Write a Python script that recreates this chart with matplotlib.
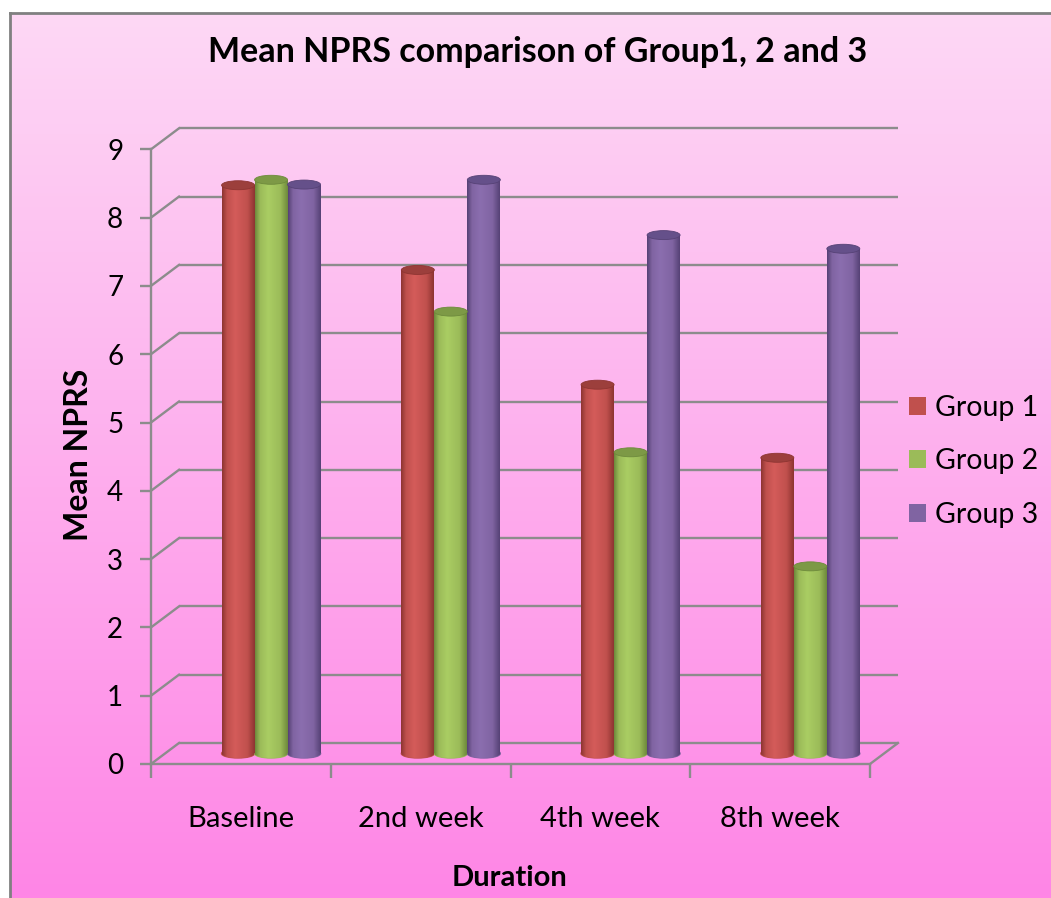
import numpy as np
import matplotlib.pyplot as plt
from matplotlib.colors import LinearSegmentedColormap
from matplotlib.patches import Ellipse

plt.rcParams['font.family'] = ['Lato', 'DejaVu Sans']

durations = ["Baseline", "2nd week", "4th week", "8th week"]
group1 = [8.32, 7.08, 5.40, 4.33]
group2 = [8.40, 6.47, 4.41, 2.74]
group3 = [8.33, 8.40, 7.59, 7.39]
group_names = ["Group 1", "Group 2", "Group 3"]
y_ticks = list(range(10))

# colours (dark edge, base, highlight, top face)
shades = [
    ("#8e3532", "#c0504d", "#d45c5a", "#9c3f3c"),
    ("#6e8a3c", "#9bbb59", "#aacd63", "#7d9946"),
    ("#564276", "#8064a2", "#8b6eaf", "#65508a"),
]
GRID = "#8c8c8c"

W, H = 1051, 898
fig = plt.figure(figsize=(W / 100, H / 100), dpi=100)

# pink gradient background with grey border top/left
bg = fig.add_axes([10 / W, 0, 1 - 10 / W, 1 - 13 / H], zorder=-1)
bg_cmap = LinearSegmentedColormap.from_list("bg", ["#fdd8f5", "#ff86e6"])
bg.imshow(np.linspace(0, 1, 256).reshape(-1, 1), aspect="auto", cmap=bg_cmap,
          extent=[0, 1, 0, 1], origin="upper")
bg.set_xticks([])
bg.set_yticks([])
for s in ["right", "bottom"]:
    bg.spines[s].set_visible(False)
for s in ["left", "top"]:
    bg.spines[s].set_color("#808080")
    bg.spines[s].set_linewidth(2)

# front plane of the pseudo 3D chart
ax = fig.add_axes([151 / W, 134 / H, 719 / W, 614.7 / H])
ax.patch.set_alpha(0)
ax.set_xlim(0, 4)
ax.set_ylim(0, 9)

px_x = 719 / 4.0      # pixels per category
px_y = 614.7 / 9.0    # pixels per unit
back_dx, back_dy = 28 / px_x, 21 / px_y   # back wall offset
bar_dx, bar_dy = 0.168, 10.5 / px_y       # bar plane offset
bar_w = 33 / px_x
ell_h = 9 / px_y

# back wall gridlines + diagonals
ax.hlines([t + back_dy for t in y_ticks], back_dx, 4 + back_dx, color=GRID,
          lw=1.7, clip_on=False, zorder=1)
for t in y_ticks:
    ax.plot([0, back_dx], [t, t + back_dy], color=GRID, lw=1.7,
            clip_on=False, zorder=1)
ax.plot([4, 4 + back_dx], [0, back_dy], color=GRID, lw=1.7, clip_on=False, zorder=1)

# cylinders
x = np.arange(len(durations)) + 0.5 + bar_dx
grad = np.linspace(0, 1, 64).reshape(1, -1)
for j, vals in enumerate([group1, group2, group3]):
    dark, base, light, top = shades[j]
    cmap = LinearSegmentedColormap.from_list(
        "cyl%d" % j, [(0, dark), (0.15, base), (0.4, light), (0.78, base), (1, dark)])
    xs = x + (j - 1) * bar_w
    bars = ax.bar(xs, vals, bar_w, bottom=bar_dy, color=base, label=group_names[j],
                  zorder=2)
    for rect, xc, v in zip(bars, xs, vals):
        x0 = xc - bar_w / 2
        im = ax.imshow(grad, cmap=cmap, aspect="auto", zorder=2.1,
                       extent=[x0, x0 + bar_w, bar_dy, bar_dy + v])
        im.set_clip_path(rect)
        bot = Ellipse((xc, bar_dy), bar_w, ell_h, color=base, zorder=2)
        ax.add_patch(bot)
        im2 = ax.imshow(grad, cmap=cmap, aspect="auto", zorder=2.1,
                        extent=[x0, x0 + bar_w, bar_dy - ell_h, bar_dy + ell_h])
        im2.set_clip_path(bot)
        ax.add_patch(Ellipse((xc, bar_dy + v), bar_w, ell_h, facecolor=top,
                             edgecolor=dark, lw=0.6, zorder=2.3))

ax.set_xlim(0, 4)
ax.set_ylim(0, 9)

# axes styling
for s in ["top", "right"]:
    ax.spines[s].set_visible(False)
for s in ["left", "bottom"]:
    ax.spines[s].set_color(GRID)
    ax.spines[s].set_linewidth(1.7)
ax.set_yticks(y_ticks)
ax.tick_params(axis="y", length=8, width=1.7, color=GRID, pad=12, labelsize=20)
ax.set_xticks(np.arange(len(durations) + 1))
ax.set_xticklabels([])
ax.tick_params(axis="x", which="major", length=10, width=1.7, color=GRID)
ax.set_xticks(np.arange(len(durations)) + 0.5, minor=True)
ax.set_xticklabels(durations, minor=True)
ax.tick_params(axis="x", which="minor", length=0, pad=30, labelsize=21)

ax.set_xlabel("Duration", fontsize=21, fontweight="bold")
ax.xaxis.set_label_coords(0.499, -0.165)
ax.set_ylabel("Mean NPRS", fontsize=23, fontweight="bold")
ax.yaxis.set_label_coords(-0.08, 0.503)

fig.suptitle("Mean NPRS comparison of Group1, 2 and 3", x=538 / W, y=1 - 52 / H,
             va="center", fontsize=24.5, fontweight="bold")

ax.legend(loc="upper left", bbox_to_anchor=(883 / W, 1 - 369 / H),
          bbox_transform=fig.transFigure, frameon=False, fontsize=20.5,
          handlelength=0.6, handleheight=0.6, handletextpad=0.32, labelspacing=0.97)

fig.savefig("out.png", dpi=100)
